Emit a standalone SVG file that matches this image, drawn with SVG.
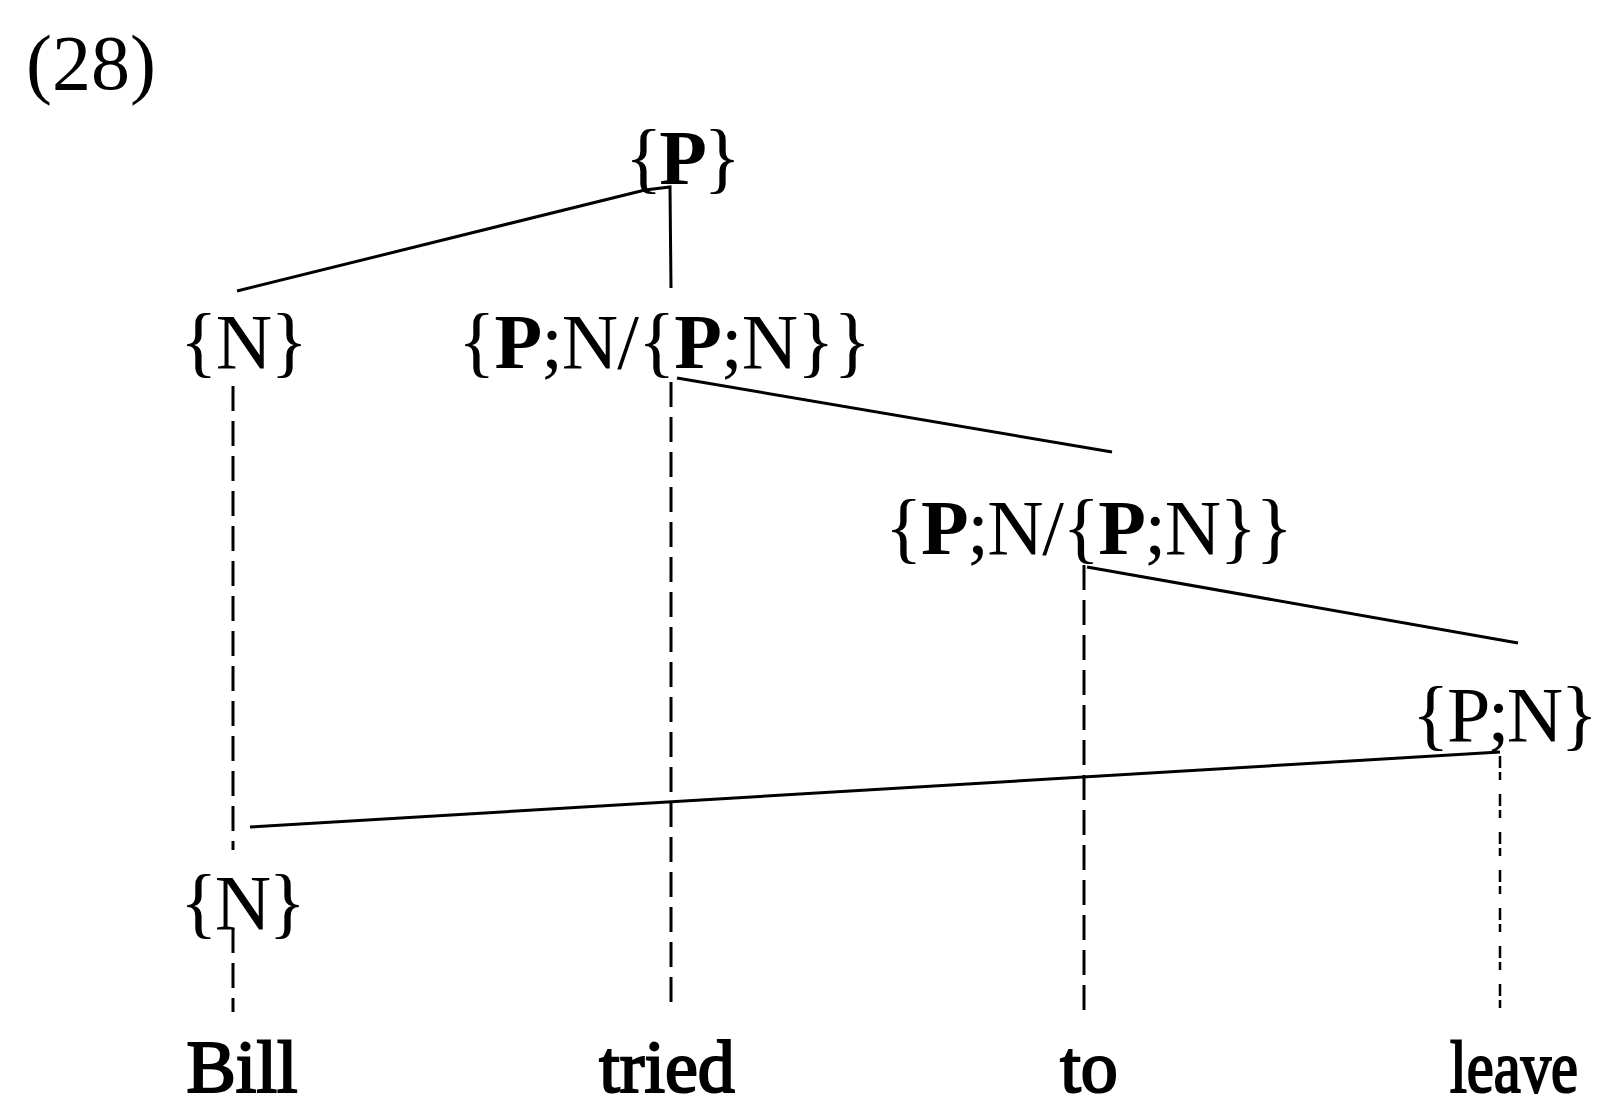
<svg xmlns="http://www.w3.org/2000/svg" width="1599" height="1118" viewBox="0 0 1599 1118">
<style>
.lbl{font-family:"Liberation Serif","Times New Roman",serif;font-size:78px;fill:#000}
.b{font-weight:bold}
.word{font-family:"Liberation Serif","Times New Roman",serif;font-size:74px;fill:#000;stroke:#000;stroke-width:2.2;text-anchor:middle}
.edge{stroke:#000;stroke-width:3;fill:none}
.dash{stroke:#000;stroke-width:3;fill:none;stroke-dasharray:25 10}
.dot{stroke:#000;stroke-width:2.5;fill:none;stroke-dasharray:12 4 8 14}
</style>
<rect width="1599" height="1118" fill="#fff"/>
<text id="ex-num" class="lbl" x="26" y="89">(28)</text>
<g id="connectors">
  <line class="edge" x1="237" y1="291" x2="645" y2="190"/>
  <path class="edge" d="M645,190 L670,187 L671,288"/>
  <line class="dash" x1="233" y1="386" x2="233" y2="850"/>
  <line class="dash" x1="233" y1="928" x2="233" y2="1012"/>
  <line class="dash" x1="671" y1="382" x2="671" y2="1005"/>
  <line class="edge" x1="677" y1="378" x2="1112" y2="452"/>
  <line class="dash" x1="1084" y1="565" x2="1084" y2="1013"/>
  <line class="edge" x1="1087" y1="567" x2="1518" y2="643"/>
  <line class="edge" x1="250" y1="827" x2="1500" y2="752"/>
  <line class="dot" x1="1500" y1="756" x2="1500" y2="1013"/>
</g>
<g id="node-P"><text class="lbl" x="625" y="184" textLength="116" lengthAdjust="spacing">{<tspan class="b">P</tspan>}</text></g>
<g id="node-N1"><text class="lbl" x="180" y="368" textLength="128" lengthAdjust="spacing">{N}</text></g>
<g id="node-PN1"><text class="lbl" x="458" y="368" textLength="413" lengthAdjust="spacing">{<tspan class="b">P</tspan>;N/{<tspan class="b">P</tspan>;N}}</text></g>
<g id="node-PN2"><text class="lbl" x="885" y="554" textLength="408" lengthAdjust="spacing">{<tspan class="b">P</tspan>;N/{<tspan class="b">P</tspan>;N}}</text></g>
<g id="node-PN3"><text class="lbl" x="1412" y="741" textLength="186" lengthAdjust="spacing">{P;N}</text></g>
<g id="node-N2"><text class="lbl" x="180" y="929" textLength="126" lengthAdjust="spacing">{N}</text></g>
<g id="word-bill"><text class="word" x="242" y="1092">Bill</text></g>
<g id="word-tried"><text class="word" x="667" y="1092">tried</text></g>
<g id="word-to"><text class="word" x="1089" y="1092">to</text></g>
<g id="word-leave"><text class="word" transform="translate(1514,1092) scale(0.82,1)" x="0" y="0">leave</text></g>
</svg>
